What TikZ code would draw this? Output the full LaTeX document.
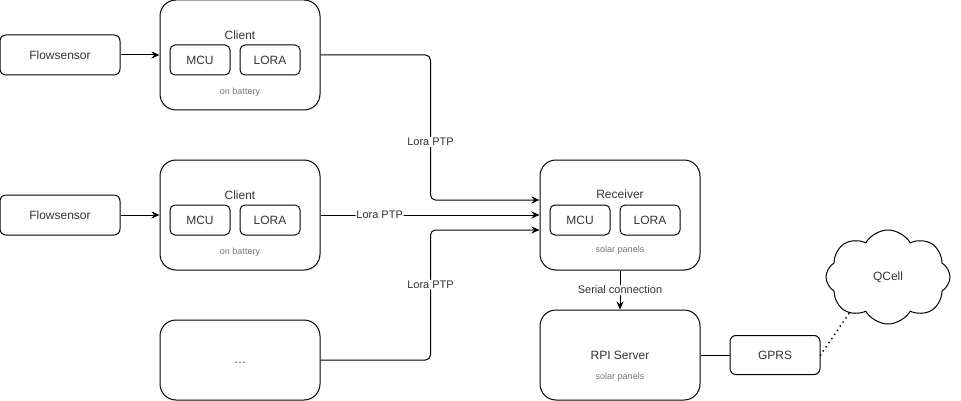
\documentclass[tikz,border=0pt]{standalone}
\usepackage{fontspec}
\setmainfont{Liberation Sans}
\usepackage{tikz}
\usetikzlibrary{positioning}
\usetikzlibrary{arrows.meta}
\usetikzlibrary{shapes.symbols}

\begin{document}
\begin{tikzpicture}[
	x=1pt, y=-1pt,
	line width=1pt,
	every node/.style={font=\fontsize{12}{14}\selectfont, text=black!80},
	sensor/.style={
		rectangle,
		rounded corners=6pt,
		draw=black,
		minimum width=120pt,
		minimum height=40pt,
		text centered
		},
	unit/.style={
		rectangle,
		rounded corners=16pt,
		draw=black,
		minimum width=160pt,
		minimum height=110pt
		},
	part/.style={
		rectangle,
		rounded corners=5pt,
		draw=black,
		minimum width=60pt,
		minimum height=30pt
		},
	note/.style={
		font=\fontsize{9}{11}\selectfont,
		text=black!55
		},
	lbl/.style={
		font=\fontsize{11}{13}\selectfont,
		fill=white,
		inner sep=1pt
		},
	conn/.style={
		-{Stealth[length=8pt,width=7pt]},
		rounded corners=5pt
		}
]
\useasboundingbox (0,0) rectangle (961,401);

% Sensors
\node [sensor] (Sensor1) at (60,55) {Flowsensor};
\node [sensor] (Sensor2) at (60,215) {Flowsensor};

% Clients
\node [unit] (Client1) at (240,55) {};
\node at ([yshift=20pt]Client1) {Client};
\node [part] (MCU1) at ([xshift=-40pt,yshift=-5pt]Client1) {MCU};
\node [part] (LORA1) at ([xshift=30pt,yshift=-5pt]Client1) {LORA};
\node [note] at ([yshift=-37pt]Client1) {on battery};

\node [unit] (Client2) at (240,215) {};
\node at ([yshift=20pt]Client2) {Client};
\node [part] (MCU2) at ([xshift=-40pt,yshift=-5pt]Client2) {MCU};
\node [part] (LORA2) at ([xshift=30pt,yshift=-5pt]Client2) {LORA};
\node [note] at ([yshift=-37pt]Client2) {on battery};

\node [unit, minimum height=80pt] (More) at (240,360) {\raisebox{-6pt}{\dots}};

% Receiver
\node [unit] (Receiver) at (620,215) {};
\node at ([yshift=21pt]Receiver) {Receiver};
\node [part] (MCU3) at ([xshift=-40pt,yshift=-5pt]Receiver) {MCU};
\node [part] (LORA3) at ([xshift=30pt,yshift=-5pt]Receiver) {LORA};
\node [note] at ([yshift=-35pt]Receiver) {solar panels};

% Server side
\node [unit, minimum height=90pt] (Server) at (620,355) {};
\node at (Server) {RPI Server};
\node [note] at ([yshift=-22pt]Server) {solar panels};
\node [sensor, minimum width=90pt, minimum height=39pt] (GPRS) at (775,355) {GPRS};
\node [cloud, draw=black, cloud puffs=8, cloud puff arc=120, aspect=1.3,
	minimum width=124pt, minimum height=94pt, inner sep=0pt] (QCell) at (888,277) {QCell};

% Connections
\draw [conn] (Sensor1.east) -- (Client1.west);
\draw [conn] (Sensor2.east) -- (Client2.west);
\draw [conn] (Client1.east) -- ++(110,0) |- ([yshift=15pt]Receiver.west)
	node [lbl, pos=0.3] {Lora PTP};
\draw [conn] (Client2.east) -- (Receiver.west)
	node [lbl, pos=0.27] {Lora PTP};
\draw [conn] (More.east) -- ++(110,0) |- ([yshift=-15pt]Receiver.west)
	node [lbl, pos=0.29] {Lora PTP};
\draw [conn] (Receiver.south) -- (Server.north)
	node [lbl, midway] {Serial connection};
\draw (Server.east) -- (GPRS.west);
\draw [dash pattern=on 0pt off 5pt, line width=2pt, line cap=round]
	(GPRS.east) -- (QCell.223);

\end{tikzpicture}
\end{document}
